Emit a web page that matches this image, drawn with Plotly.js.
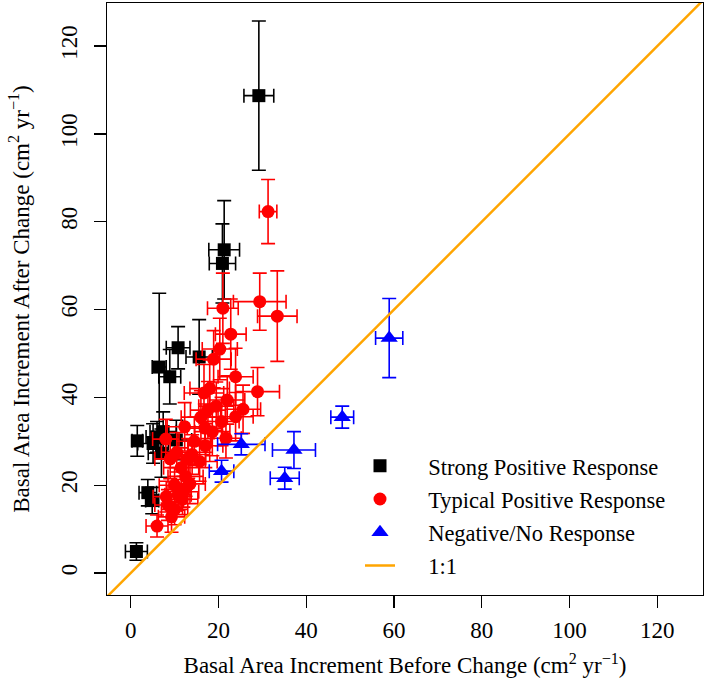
<!DOCTYPE html>
<html>
<head>
<meta charset="utf-8">
<script src="https://cdn.plot.ly/plotly-3.0.1.min.js"></script>
<style>
  body { margin: 0; background: #fff; }
  #chart { width: 704px; height: 695px; }
</style>
</head>
<body>
<div id="chart"></div>
<script>
// Strong positive response (black squares)
const strongX    = [29.2, 21.3, 20.9, 10.8, 6.5, 8.9, 15.6, 1.5, 5.1, 6.0, 7.4, 7.0, 10.4, 3.9, 4.9, 1.3];
const strongY    = [108.7, 73.6, 70.5, 51.3, 46.9, 44.7, 49.2, 30.1, 29.5, 31.0, 32.2, 27.3, 30.3, 18.3, 16.5, 4.9];
const strongXErr = [3.4, 3.5, 3.0, 2.7, 1.6, 2.5, 3.0, 1.2, 3.5, 2.5, 3.0, 3.0, 3.5, 2.0, 1.5, 2.5];
const strongYErr = [17.0, 11.2, 9.0, 4.8, 16.8, 6.2, 8.5, 3.5, 4.5, 3.5, 4.5, 5.5, 4.5, 3.0, 3.0, 2.0];

// Typical positive response (red circles)
const typicalX    = [31.3, 21.0, 29.4, 33.4, 22.8, 20.3, 18.9, 23.9, 28.9, 16.7, 22.0, 25.6, 23.9, 20.7,
                     17.6, 16.9, 18.6, 21.7, 12.3, 13.1, 15.7, 13.5, 11.8, 6.0, 9.3, 8.1, 10.8, 9.0,
                     10.5, 11.5, 10.0, 8.5, 12.5, 14.5, 16.0, 18.0, 19.5, 17.0, 8.0, 12.0, 10.0, 14.0];
const typicalY    = [82.3, 60.3, 61.8, 58.5, 54.4, 51.0, 48.7, 44.7, 41.3, 41.0, 39.4, 37.3, 35.6, 34.5,
                     37.1, 33.0, 32.2, 30.7, 33.3, 26.1, 25.4, 20.3, 16.8, 10.7, 12.8, 17.4, 17.8, 26.0,
                     27.5, 24.0, 20.0, 15.5, 22.0, 30.0, 35.5, 42.0, 38.0, 29.0, 30.5, 18.5, 14.5, 27.0];
const typicalXErr = [2.0, 3.5, 6.0, 4.5, 3.5, 4.0, 4.0, 4.0, 5.0, 4.5, 4.0, 4.0, 4.0, 4.0,
                     4.0, 4.0, 4.0, 3.5, 4.0, 4.0, 4.0, 3.5, 3.5, 2.5, 3.0, 3.0, 3.0, 3.5,
                     3.5, 4.0, 3.5, 3.0, 4.0, 4.0, 4.5, 4.5, 4.0, 4.0, 3.0, 3.5, 3.0, 4.0];
const typicalYErr = [7.3, 8.0, 6.5, 10.3, 8.0, 7.0, 6.5, 6.5, 5.5, 6.5, 5.5, 5.5, 5.5, 5.5,
                     6.5, 5.5, 5.5, 4.5, 5.5, 4.5, 4.5, 4.5, 3.5, 2.5, 3.5, 3.5, 3.5, 4.5,
                     4.5, 4.5, 4.0, 3.5, 4.5, 5.5, 6.0, 6.5, 5.5, 5.0, 4.5, 3.5, 3.5, 4.5];

// Negative / no response (blue triangles)
const negX    = [58.9, 48.2, 37.2, 35.1, 25.2, 20.7];
const negY    = [53.5, 35.5, 28.0, 21.6, 29.3, 23.2];
const negXErr = [3.1, 2.6, 4.9, 3.3, 5.4, 2.8];
const negYErr = [9.0, 2.5, 4.2, 2.5, 2.4, 2.5];

// 1:1 reference line
const lineX = [-10, 140];
const lineY = [-10, 140];

const serif = "'Liberation Serif', 'DejaVu Serif', serif";
const pad = "\u00a0\u00a0\u00a0\u00a0\u00a0";

function errs(arr, color) {
  return { type: "data", array: arr, visible: true, color: color, thickness: 1.6, width: 7 };
}

const traces = [
  {
    name: pad + "Strong Positive Response", legendgroup: "a",
    x: strongX, y: strongY, type: "scatter", mode: "markers",
    marker: { symbol: "square", size: 13, color: "black" },
    error_x: errs(strongXErr, "black"), error_y: errs(strongYErr, "black")
  },
  {
    name: pad + "Typical Positive Response", legendgroup: "b",
    x: typicalX, y: typicalY, type: "scatter", mode: "markers",
    marker: { symbol: "circle", size: 13, color: "#ff0000" },
    error_x: errs(typicalXErr, "#ff0000"), error_y: errs(typicalYErr, "#ff0000")
  },
  {
    name: pad + "Negative/No Response", legendgroup: "c",
    x: negX, y: negY, type: "scatter", mode: "markers",
    marker: { symbol: "triangle-up", size: 15, color: "#0000ff" },
    error_x: errs(negXErr, "#0000ff"), error_y: errs(negYErr, "#0000ff")
  },
  {
    name: pad + "1:1", legendgroup: "d",
    x: lineX, y: lineY, type: "scatter", mode: "lines",
    line: { color: "#ffa500", width: 2.5 }
  }
];

const axisBase = {
  showgrid: false, zeroline: false, showline: true, mirror: true,
  linecolor: "black", linewidth: 1.3,
  ticks: "outside", ticklen: 12, tickwidth: 1.3, tickcolor: "black",
  tickvals: [0, 20, 40, 60, 80, 100, 120],
  tickfont: { family: serif, size: 23, color: "black" }
};

const layout = {
  width: 704, height: 695,
  margin: { l: 107, r: 1, t: 3, b: 100 },
  paper_bgcolor: "white", plot_bgcolor: "white",
  font: { family: serif, color: "black" },
  showlegend: true,
  legend: {
    x: 0.4245, y: 0.254, xanchor: "left", yanchor: "top",
    bgcolor: "rgba(0,0,0,0)", borderwidth: 0,
    font: { family: serif, size: 22.5, color: "black" },
    itemwidth: 30, tracegroupgap: 1
  },
  xaxis: Object.assign({}, axisBase, {
    range: [-5.4, 130.4],
    ticklabelstandoff: 2,
    title: { text: "Basal Area Increment Before Change (cm<sup>2</sup> yr<sup>\u22121</sup>)" + pad,
             font: { family: serif, size: 23, color: "black" }, standoff: 15 }
  }),
  yaxis: Object.assign({}, axisBase, {
    range: [-5.0, 129.8],
    tickangle: -90,
    ticklabelstandoff: 8,
    title: { text: "Basal Area Increment After Change (cm<sup>2</sup> yr<sup>\u22121</sup>)",
             font: { family: serif, size: 23, color: "black" }, standoff: 20 }
  })
};

Plotly.newPlot("chart", traces, layout, { staticPlot: true, displayModeBar: false });
</script>
</body>
</html>
